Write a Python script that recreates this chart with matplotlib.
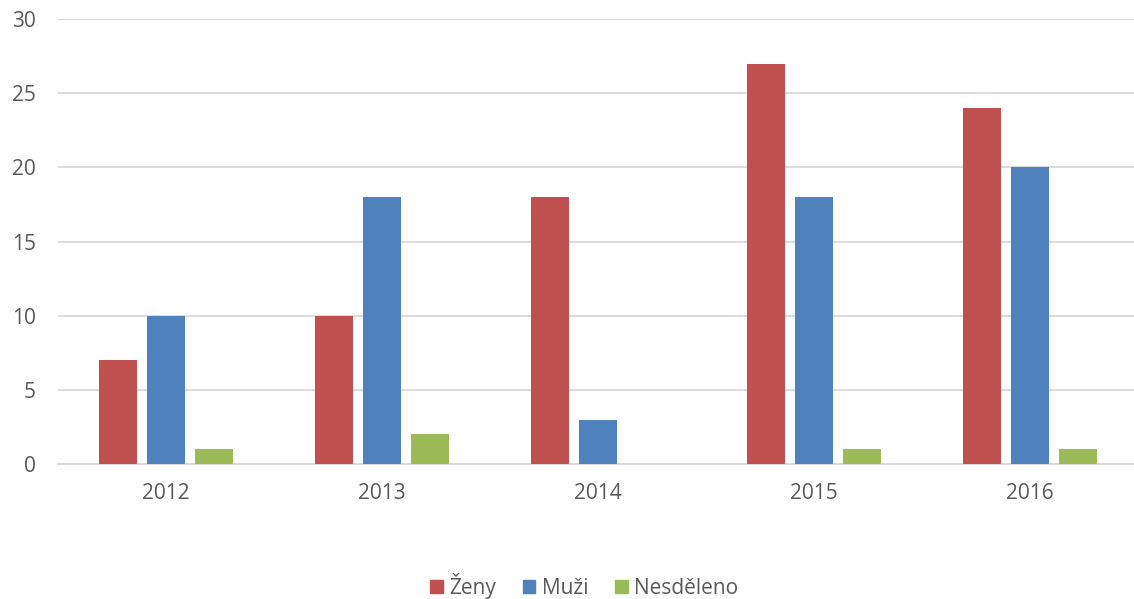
import matplotlib.pyplot as plt
import numpy as np
from matplotlib.patches import Patch

years = ['2012', '2013', '2014', '2015', '2016']
zeny = [7, 10, 18, 27, 24]
muzi = [10, 18, 3, 18, 20]
nesdeleno = [1, 2, 0, 1, 1]
series_names = ['Ženy', 'Muži', 'Nesděleno']
colors = ['#C0504D', '#4F81BD', '#9BBB59']
yticks = [0, 5, 10, 15, 20, 25, 30]

plt.rcParams['font.family'] = ['Open Sans', 'DejaVu Sans']

fig = plt.figure(figsize=(11.34, 5.99), dpi=100)
ax = fig.add_axes([58 / 1134, 1 - 464 / 599, 1 - 58 / 1134, (464 - 19) / 599])

x = np.arange(len(years))
width = 0.176
offset = 0.222
for i, (vals, c) in enumerate(zip([zeny, muzi, nesdeleno], colors)):
    ax.bar(x + (i - 1) * offset, vals, width, color=c, zorder=3)

ax.set_xlim(-0.5, (1134 - 166) / 216)
ax.set_ylim(0, 30)
ax.set_yticks(yticks)
ax.set_xticks(x)
ax.set_xticklabels(years)
ax.grid(axis='y', color='#D9D9D9', linewidth=1.3, zorder=0)
for s in ['top', 'right', 'left']:
    ax.spines[s].set_visible(False)
ax.spines['bottom'].set_color('#D9D9D9')
ax.spines['bottom'].set_linewidth(1.3)
ax.tick_params(axis='both', length=0, labelsize=15, colors='#595959')
ax.tick_params(axis='x', pad=14)
ax.tick_params(axis='y', pad=16)

handles = [Patch(color=c) for c in colors]
fig.legend(handles, series_names, loc='center', bbox_to_anchor=(0.515, 0.022),
           ncol=3, frameon=False, fontsize=15, labelcolor='#595959',
           handlelength=0.6, handleheight=0.6, handletextpad=0.3, columnspacing=1.3)

fig.savefig('out.png', dpi=100)
